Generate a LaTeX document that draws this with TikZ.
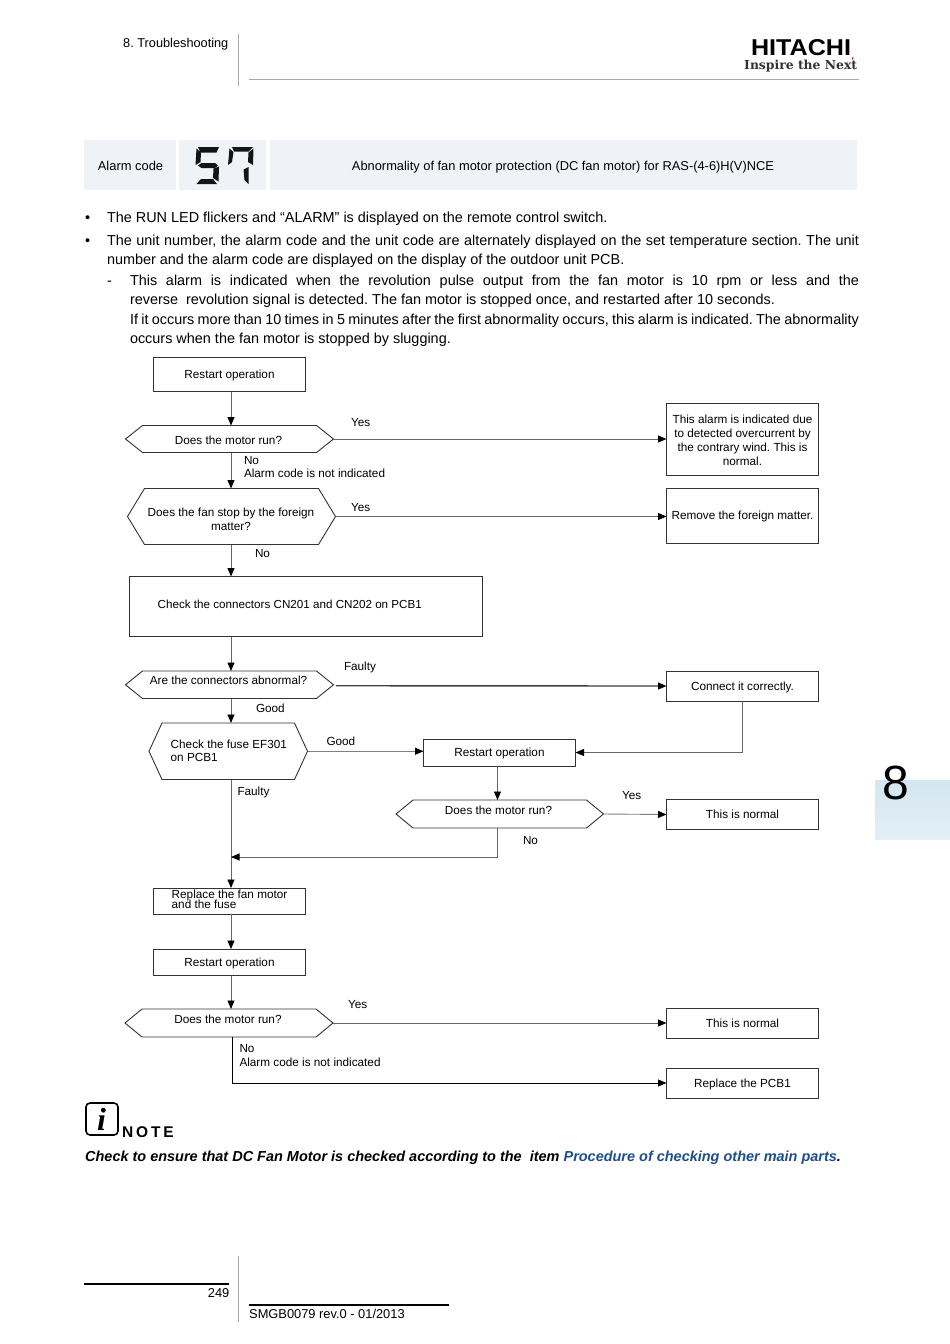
\documentclass[tikz,border=0pt]{standalone}
\usepackage{fontspec}
\usepackage{graphicx}
\setmainfont{Liberation Sans}
\newfontfamily\logoserif{DejaVu Serif}
\newfontfamily\iconserif{Liberation Serif}
\usetikzlibrary{arrows.meta,calc}
\definecolor{band}{HTML}{EFF3F7}
\definecolor{rule}{HTML}{A8A8A8}
\definecolor{linkblue}{HTML}{1F4E8C}
\definecolor{tabtop}{HTML}{D3E6F1}
\definecolor{tabbot}{HTML}{E4F0F6}
\definecolor{conng}{HTML}{666666}
\definecolor{edgeg}{HTML}{333333}
\newcommand{\fs}[1]{\fontsize{#1}{#1}\selectfont}
\newcommand{\tightlines}{\fontsize{11.75}{10.5}\selectfont\lineskiplimit=-10pt\relax}
\AtBeginDocument{\frenchspacing}
\tikzset{
  x=1pt,y=-1pt,
  flowfont/.style={font=\fontsize{11.75}{14}\selectfont},
  bodyt/.style={anchor=base west,inner sep=0,outer sep=0,font=\fs{14.43}},
  lbl/.style={anchor=base west,inner sep=0,outer sep=0,flowfont},
  ctxt/.style={anchor=base,inner sep=0,outer sep=0,align=center,flowfont},
  flowbox/.style={draw=edgeg,line width=0.9pt,inner sep=0,outer sep=0,align=center,flowfont,text height=8pt,text depth=0pt},
  hexframe/.style={draw=edgeg,line width=0.9pt},
  conn/.style={draw=conng,line width=0.9pt},
  arr/.style={conn,-{Triangle[length=8.5pt,width=7pt,color=black]}},
  seg/.style={fill=black!92,draw=none},
}
% name, x0, x1, y0, y1, inset
\newcommand{\hexnode}[6]{%
  \node[inner sep=0,outer sep=0,minimum width={(#3-#2)*1pt},minimum height={(#5-#4)*1pt}] (#1) at ({(#2+#3)/2},{(#4+#5)/2}) {};
  \draw[hexframe] (#1.west) -- ($(#1.north west)+(#6,0)$) -- ($(#1.north east)+(-#6,0)$) -- (#1.east) -- ($(#1.south east)+(-#6,0)$) -- ($(#1.south west)+(#6,0)$) -- cycle;
}
% name, x0, x1, y0, y1, text
\newcommand{\boxnode}[6]{%
  \node[flowbox,minimum width={(#3-#2)*1pt},minimum height={(#5-#4)*1pt}] (#1) at ({(#2+#3)/2},{(#4+#5)/2}) {#6};
}
\begin{document}
\begin{tikzpicture}
\useasboundingbox (0,0) rectangle (950,1344);
\fill[white] (0,0) rectangle (950,1344);

% header
\node[anchor=base west,inner sep=0,font=\fs{12.75}] (hdr) at (123,47) {8. Troubleshooting};
\coordinate (hv1) at (238.5,34); \coordinate (hv2) at (238.5,86);
\draw[rule,line width=1pt] (hv1) -- (hv2);
\coordinate (hh1) at (249,79); \coordinate (hh2) at (859,79);
\draw[rule,line width=1pt] (hh1) -- (hh2);
\node[anchor=base,inner sep=0] (logo) at (801,55) {\resizebox{100pt}{16pt}{\bfseries HITACHI}};
\node[anchor=base west,inner sep=0,text=black!80] (next) at (744,69.5) {\resizebox{113pt}{!}{\logoserif\bfseries Inspire the Next}};
\fill[red!75!black] (851.5,58) -- (853.5,57) -- (853,60) -- cycle;

% banner
\fill[band] (84,140) rectangle (176,190);
\fill[band] (179,140) rectangle (266,190);
\fill[band] (270,140) rectangle (857,190);
\node[anchor=base,inner sep=0,font=\fs{12.9}] (ac) at (130.5,170) {Alarm code};
\node[anchor=base,inner sep=0,font=\fs{12.85}] (at) at (563,170) {Abnormality of fan motor protection (DC fan motor) for RAS-(4-6)H(V)NCE};
% seven-segment 57
\fill[seg] (198,147) -- (219,147) -- (216.5,152.5) -- (200.5,152.5) -- cycle;
\fill[seg] (196.5,148.5) -- (201,152.5) -- (200.5,162) -- (195.5,165) -- cycle;
\fill[seg] (198,165.5) -- (201.5,163) -- (215,163) -- (218,165.5) -- (215,168) -- (201.5,168) -- cycle;
\fill[seg] (213.5,168.5) -- (219,166.5) -- (218.5,181.5) -- (213,178) -- cycle;
\fill[seg] (196.5,184) -- (201,179) -- (213,179) -- (217,184) -- cycle;
\fill[seg] (232,147) -- (253,147) -- (248.5,151.5) -- (234,151.5) -- cycle;
\fill[seg] (229.5,148.5) -- (233.5,152) -- (232,162) -- (228,165) -- cycle;
\fill[seg] (253.5,148.5) -- (253,165) -- (248,162) -- (248.5,152.5) -- cycle;
\fill[seg] (248.5,167) -- (248.5,184) -- (244.5,180) -- (243.5,169.5) -- cycle;

% body text
\node[bodyt] (b1) at (85,222.5) {•};
\node[bodyt] (t1) at (107,222.5) {The RUN LED flickers and “ALARM” is displayed on the remote control switch.};
\node[bodyt] (b2) at (85,245) {•};
\node[bodyt] (t2) at (107,245) {\makebox[752pt][s]{The unit number, the alarm code and the unit code are alternately displayed on the set temperature section. The unit}};
\node[bodyt] (t3) at (107,264) {number and the alarm code are displayed on the display of the outdoor unit PCB.};
\node[bodyt] (d1) at (107,285.5) {-};
\node[bodyt] (t4) at (130,285.5) {\makebox[729pt][s]{This alarm is indicated when the revolution pulse output from the fan motor is 10 rpm or less and the}};
\node[bodyt] (t5) at (130,304.5) {reverse\ \ revolution signal is detected. The fan motor is stopped once, and restarted after 10 seconds.};
\node[bodyt] (t6) at (130,324) {\makebox[729pt][s]{If it occurs more than 10 times in 5 minutes after the first abnormality occurs, this alarm is indicated. The abnormality}};
\node[bodyt] (t7) at (130,343.5) {occurs when the fan motor is stopped by slugging.};

% guide coordinates
\coordinate (cA) at (231,0);
\coordinate (cB) at (497.5,0);
\coordinate (cC) at (231,857);
\coordinate (cD) at (232,0);

% boxes
\boxnode{r1}{153.5}{305.5}{357}{391.5}{Restart operation}
\boxnode{alarm}{666.5}{818.5}{403.5}{475.5}{}
\boxnode{remove}{666.5}{818.5}{488.5}{543}{Remove the foreign matter.}
\boxnode{chk}{129.5}{482.5}{576.5}{636.5}{}
\boxnode{connect}{666.5}{818.5}{671}{701}{Connect it correctly.}
\boxnode{r2}{423.5}{575.5}{739}{766}{Restart operation}
\boxnode{n1}{666.5}{818.5}{799.5}{829.5}{This is normal}
\boxnode{rep}{153.5}{305.5}{888}{914}{}
\boxnode{r3}{153.5}{305.5}{949}{975.5}{Restart operation}
\boxnode{n2}{666.5}{818.5}{1008}{1038}{This is normal}
\boxnode{pcb}{666.5}{818.5}{1068}{1098}{Replace the PCB1}

% hexagons
\hexnode{h1}{125.5}{333.5}{425.5}{452.5}{17}
\hexnode{h2}{127.5}{335.5}{488.5}{544.5}{17}
\hexnode{h3}{125.5}{333.5}{671}{698.5}{17}
\hexnode{h4}{149}{307.5}{723}{779.5}{13}
\hexnode{h5}{396}{603.5}{800}{828}{17}
\hexnode{h6}{125}{333}{1009}{1037}{17}

% texts inside
\node[ctxt] (alarmt) at (742.5,465) {This alarm is indicated due\\to detected overcurrent by\\the contrary wind. This is\\normal.};
\node[anchor=base west,inner sep=0,font=\fs{11.65}] (chkt) at (157.5,608) {Check the connectors CN201 and CN202 on PCB1};
\node[anchor=base west,inner sep=0,align=left,font=\tightlines] (rept) at (171.5,908.5) {Replace the fan motor\\and the fuse};
\node[ctxt] (h1t) at (228.5,444) {Does the motor run?};
\node[ctxt] (h2t) at (231,530) {Does the fan stop by the foreign\\matter?};
\node[ctxt] (h3t) at (228.5,684.5) {Are the connectors abnormal?};
\node[anchor=base west,inner sep=0,align=left,font=\fontsize{11.75}{13}\selectfont] (h4t) at (170.5,761.5) {Check the fuse EF301\\on PCB1};
\node[ctxt] (h5t) at (498.5,814) {Does the motor run?};
\node[ctxt] (h6t) at (228,1023) {Does the motor run?};

% connectors
\draw[arr] (r1.south -| cA) -- (h1.north -| cA);
\draw[arr] (h1.south -| cA) -- (h2.north -| cA);
\draw[arr] (h2.south -| cA) -- (chk.north -| cA);
\draw[arr] (chk.south -| cA) -- (h3.north -| cA);
\draw[arr] (h3.south -| cA) -- (h4.north -| cA);
\draw[arr] (h4.south -| cA) -- (rep.north -| cA);
\draw[arr] (rep.south -| cA) -- (r3.north -| cA);
\draw[arr] (r3.south -| cA) -- (h6.north -| cA);
\draw[arr] (h1.east) -- (h1.east -| alarm.west);
\draw[arr] (h2.east) -- (h2.east -| remove.west);
\draw[arr,line width=1.4pt,draw=black!75] ($(h3.east)+(2.5,1)$) -- (connect.west);
\draw[arr,line width=1.2pt] (connect.south) |- (r2.east);
\draw[arr,draw=gray] (h4.east) -- (h4.east -| r2.west);
\draw[arr] (r2.south -| cB) -- (h5.north -| cB);
\draw[arr,draw=gray] (h5.east) -- (n1.west);
\draw[arr] (h5.south -| cB) |- (cC);
\draw[arr] (h6.east) -- (h6.east -| n2.west);
\draw[arr,draw=black] (h6.south -| cD) |- (pcb.west);

% connector labels
\node[lbl] (l1) at (351,426) {Yes};
\node[lbl] (l2) at (244,464) {No};
\node[lbl] (l3) at (244,477.5) {Alarm code is not indicated};
\node[lbl] (l4) at (351,511.5) {Yes};
\node[lbl] (l5) at (255,557) {No};
\node[lbl] (l6) at (344,670) {Faulty};
\node[lbl] (l7) at (256,712.5) {Good};
\node[lbl] (l8) at (326.5,745.5) {Good};
\node[lbl] (l9) at (237.5,795) {Faulty};
\node[lbl] (l10) at (622,799) {Yes};
\node[lbl] (l11) at (523,844) {No};
\node[lbl] (l12) at (348,1008.5) {Yes};
\node[lbl] (l13) at (239.5,1052.5) {No};
\node[lbl] (l14) at (239.5,1066) {Alarm code is not indicated};

% side tab
\shade[top color=tabtop,bottom color=tabbot] (875,780) rectangle (950,839);
\node[anchor=base,inner sep=0,font=\fs{48}] (tab8) at (895.5,799) {8};

% note
\node[draw=black,line width=1.6pt,rounded corners=4pt,minimum width=32pt,minimum height=32pt,inner sep=0,outer sep=0] (ico) at (102,1119) {};
\node[anchor=base,inner sep=0,font=\iconserif\bfseries\itshape\fs{32}] (icoi) at (101.5,1130) {i};
\node[anchor=base west,inner sep=0,font=\fs{15.5}\bfseries\addfontfeature{LetterSpace=18}] (note) at (122,1137) {NOTE};
\node[anchor=base west,inner sep=0,font=\fs{14.47}\bfseries\itshape] (notet) at (85,1161) {Check to ensure that DC Fan Motor is checked according to the\ \ item \textcolor{linkblue}{Procedure of checking other main parts}.};

% footer
\coordinate (f1) at (84,1284); \coordinate (f2) at (229,1284);
\draw[black,line width=1.3pt] (f1) -- (f2);
\node[anchor=base east,inner sep=0,font=\fs{12.85}] (pg) at (229.5,1297) {249};
\coordinate (fv1) at (238.5,1256); \coordinate (fv2) at (238.5,1322);
\draw[rule,line width=1pt] (fv1) -- (fv2);
\coordinate (f3) at (249,1305); \coordinate (f4) at (449,1305);
\draw[black,line width=1.3pt] (f3) -- (f4);
\node[anchor=base west,inner sep=0,font=\fs{12.85}] (smg) at (249,1318) {SMGB0079 rev.0 - 01/2013};
\end{tikzpicture}
\end{document}
